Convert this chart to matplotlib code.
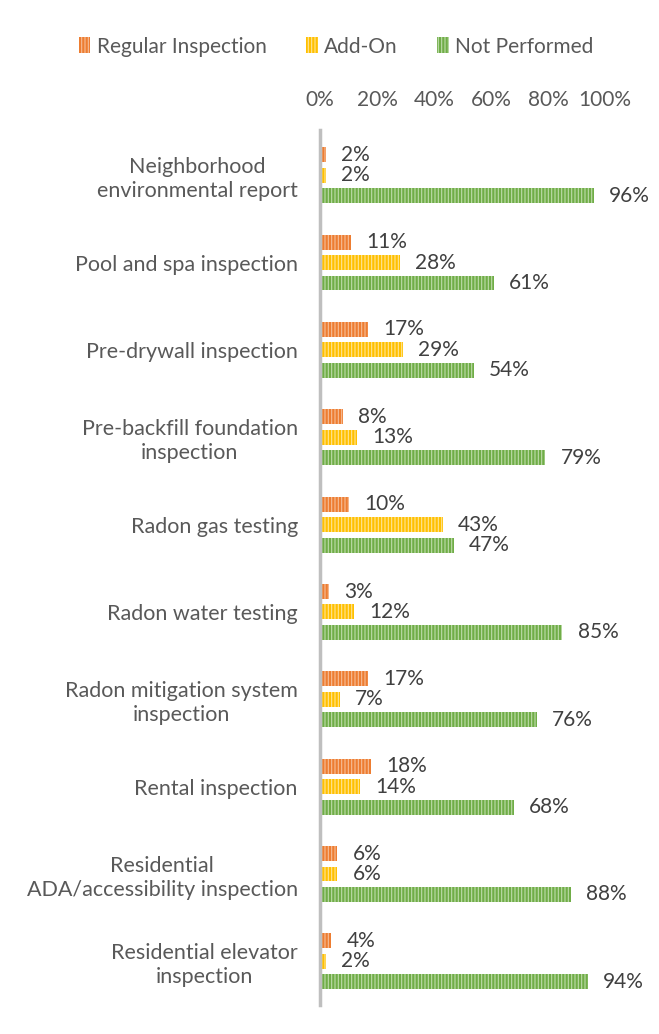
import numpy as np
import matplotlib.pyplot as plt

categories = [
    "Neighborhood\nenvironmental report",
    "Pool and spa inspection",
    "Pre-drywall inspection",
    "Pre-backfill foundation\ninspection",
    "Radon gas testing",
    "Radon water testing",
    "Radon mitigation system\ninspection",
    "Rental inspection",
    "Residential\nADA/accessibility inspection",
    "Residential elevator\ninspection",
]
regular = [2, 11, 17, 8, 10, 3, 17, 18, 6, 4]
add_on = [2, 28, 29, 13, 43, 12, 7, 14, 6, 2]
not_performed = [96, 61, 54, 79, 47, 85, 76, 68, 88, 94]

series = [
    ("Regular Inspection", regular, "#ED7D31", "#F7BE98"),
    ("Add-On", add_on, "#FFC000", "#FFE596"),
    ("Not Performed", not_performed, "#70AD47", "#BEDCAA"),
]

plt.rcParams['font.family'] = ['Lato', 'DejaVu Sans']
plt.rcParams['hatch.linewidth'] = 0.8

fig = plt.figure(figsize=(6.59, 10.34), dpi=100)
ax = fig.add_axes([0.4856, 0.028, 0.4325, 0.8465])

y = np.arange(len(categories))
offsets = [-0.234, 0, 0.234]
h = 0.171

for (name, vals, col, hcol), off in zip(series, offsets):
    v = np.array(vals) / 100
    bars = ax.barh(y + off, v, height=h, color=col, edgecolor=hcol,
                   linewidth=0, hatch='|||||', label=name)
    for b, val in zip(bars, vals):
        ax.annotate(f"{val}%", (b.get_width(), b.get_y() + b.get_height() / 2),
                    xytext=(11, 0), textcoords='offset points', va='center',
                    ha='left', fontsize=15, color='#404040',
                    annotation_clip=False)

ax.set_xlim(0, 1)
ax.set_ylim(len(categories) - 0.5, -0.52)
ax.set_yticks(y)
ax.set_yticklabels(categories, fontsize=15.5, color='#595959',
                   multialignment='center', linespacing=1.25)
ax.set_xticks(np.arange(0, 1.01, 0.2))
ax.set_xticklabels([f"{int(t*100)}%" for t in np.arange(0, 1.01, 0.2)],
                   fontsize=15, color='#595959')
ax.xaxis.tick_top()
ax.tick_params(axis='both', length=0)
ax.tick_params(axis='y', pad=16)
ax.tick_params(axis='x', pad=14)
for s in ['top', 'right', 'bottom']:
    ax.spines[s].set_visible(False)
ax.spines['left'].set_color('#BFBFBF')
ax.spines['left'].set_linewidth(2.5)

fig.legend(loc='center', bbox_to_anchor=(0.51, 0.955), ncol=3, frameon=False,
           fontsize=15, labelcolor='#595959', handlelength=0.55,
           handleheight=0.8, handletextpad=0.3, columnspacing=1.9)

fig.savefig('out.png', dpi=100)
